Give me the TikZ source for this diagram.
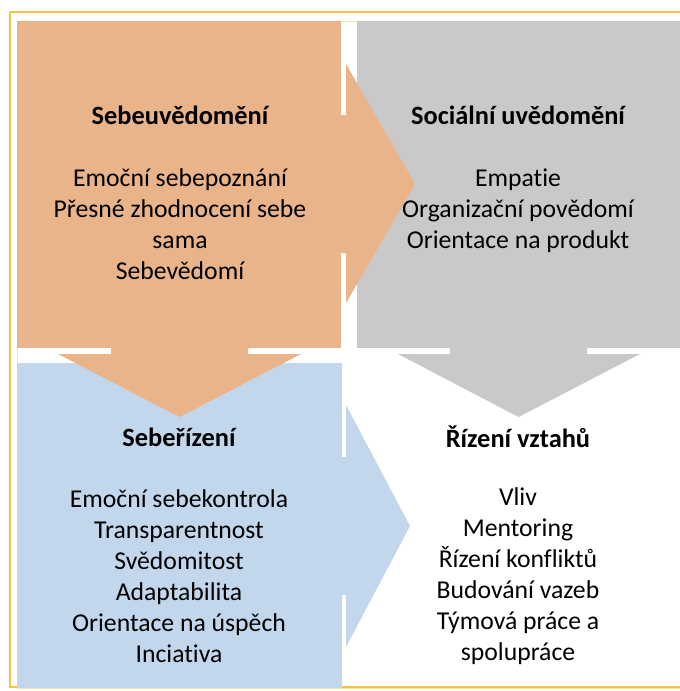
\documentclass[tikz,border=0pt]{standalone}
\usepackage{fontspec}
\setmainfont{Carlito}[Ligatures={NoCommon,NoDiscretionary}]
\definecolor{boxorange}{RGB}{233,180,138}
\definecolor{boxgray}{RGB}{201,201,201}
\definecolor{boxblue}{RGB}{195,215,236}
\definecolor{frameyellow}{RGB}{244,196,70}
\definecolor{framelight}{RGB}{250,226,160}
\begin{document}
\begin{tikzpicture}[x=1pt,y=-1pt,
  cell/.style={draw=none,inner sep=0pt,outer sep=0pt,anchor=north west},
  heading/.style={font=\fontsize{26.4}{31}\selectfont\bfseries,align=center,inner sep=0pt},
  body/.style={font=\fontsize{25.7}{31}\selectfont,align=center,inner sep=0pt}]
\useasboundingbox (0,0) rectangle (680,691);
\fill[white] (0,0) rectangle (680,691);
% outer frame
\draw[frameyellow,line width=1.5pt] (10,12) rectangle (700,687);
\draw[framelight,line width=1pt] (17,21) rectangle (700,688);
% the four cells
\node[cell,fill=boxorange,minimum width=324pt,minimum height=327pt] (selfaware) at (17,21) {};
\node[cell,fill=boxgray,minimum width=330pt,minimum height=327pt] (social) at (357,21) {};
\node[cell,fill=boxblue,minimum width=325pt,minimum height=325pt] (selfmanage) at (17,363) {};
% block arrows between the cells
\fill[boxgray] (450,300) -- (450,354) -- (398,354) -- (518.5,417) -- (640,354) -- (587,354) -- (587,300) -- cycle;
\fill[boxorange] (300,115) -- (346,115) -- (346,64) -- (415,184) -- (346,303) -- (346,253) -- (300,253) -- cycle;
\fill[boxorange] (111,300) -- (111,354) -- (58,354) -- (179.5,417) -- (301,354) -- (248,354) -- (248,300) -- cycle;
\fill[boxblue] (300,457) -- (346,457) -- (346,405) -- (410,526) -- (346,647) -- (346,595) -- (300,595) -- cycle;
% texts
\node[heading] (h1) at (180,115) {Sebeuvědomění};
\node[body] (b1) at (180,224) {Emoční sebepoznání\\Přesné zhodnocení sebe\\sama\\Sebevědomí};
\node[heading] (h2) at (518,115) {Sociální uvědomění};
\node[body] (b2) at (518,211) {Empatie\\Organizační povědomí\\Orientace na produkt};
\node[heading] (h3) at (179,437) {Sebeřízení};
\node[body] (b3) at (179,576) {Emoční sebekontrola\\Transparentnost\\Svědomitost\\Adaptabilita\\Orientace na úspěch\\Inciativa};
\node[heading] (h4) at (518,437) {Řízení vztahů};
\node[body] (b4) at (518,576) {Vliv\\Mentoring\\Řízení konfliktů\\Budování vazeb\\Týmová práce a\\spolupráce};
\end{tikzpicture}
\end{document}
